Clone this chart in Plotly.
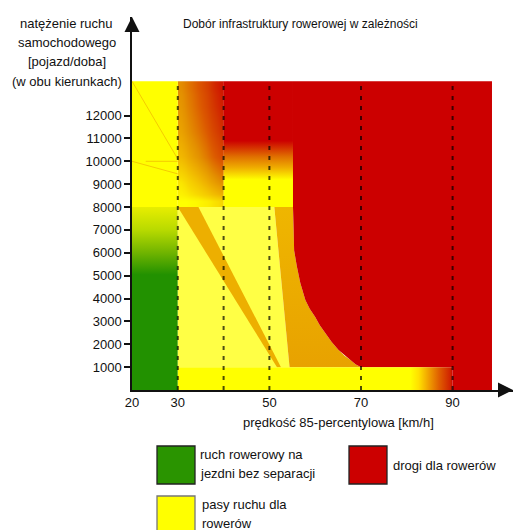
import plotly.graph_objects as go

# ---------------- data (speed km/h, traffic volume veh/day) ----------------
X_TICKS = [20, 30, 50, 70, 90]
Y_TICKS = [1000, 2000, 3000, 4000, 5000, 6000, 7000, 8000, 9000, 10000, 11000, 12000]
CLASS_LINES = [30, 40, 50, 70, 90]
VOL_TOP = 13500

uyel_x = [20, 30, 30, 20]
uyel_y = [8000, 8000, VOL_TOP, VOL_TOP]

green_x = [20, 30, 30, 20]
green_y = [0, 0, 8000, 8000]

mid_x = [30, 51.07, 54.4, 30]
mid_y = [8000, 8000, 1000, 1000]

diag_x = [30, 34.5, 52.53, 51.66]
diag_y = [8000, 8000, 1000, 1000]

curve_x = [55.15, 55.3, 55.4, 56.0, 56.75, 57.85, 58.8, 60.0, 61.0, 62.2, 63.6, 65.1, 66.4, 67.7, 68.8, 70.0]
curve_y = [8000, 7000, 6100, 5400, 4680, 3930, 3550, 3190, 2830, 2490, 2100, 1750, 1500, 1310, 1130, 1000]

band_x = [51.07] + curve_x + [54.4]
band_y = [8000] + curve_y + [1000]

red_x = [55.15, 98.6, 98.6, 90, 90] + curve_x[::-1]
red_y = [VOL_TOP, VOL_TOP, 0, 0, 1000] + curve_y[::-1]

strip_x = [30, 90, 90, 30]
strip_y = [0, 0, 1000, 1000]

umid_x = [40, 55.15, 55.15, 40]
umid_y = [8000, 8000, VOL_TOP, VOL_TOP]

# transition block 30-40 km/h above 8000 veh/day: share of "paths" colour (0 = lanes, 1 = paths)
trans_x_edges = [30, 31.25, 32.5, 33.75, 35, 36.25, 37.5, 38.75, 40]
trans_y_nodes = [8000, 9100, 10200, 11300, 12400, VOL_TOP]
trans_z = [
    [0.00, 0.00, 0.01, 0.02, 0.04, 0.06, 0.09, 0.12],
    [0.08, 0.12, 0.17, 0.22, 0.28, 0.34, 0.40, 0.46],
    [0.26, 0.31, 0.37, 0.43, 0.50, 0.57, 0.64, 0.70],
    [0.36, 0.42, 0.48, 0.54, 0.61, 0.68, 0.75, 0.82],
    [0.42, 0.48, 0.54, 0.61, 0.68, 0.75, 0.82, 0.88],
    [0.46, 0.52, 0.58, 0.65, 0.72, 0.79, 0.86, 0.92],
]

# faint seam lines visible in the upper-left block
seam_x = [20, 30, None, 20, 30, None, 23, 30]
seam_y = [VOL_TOP, 10100, None, 10000, 9450, None, 10000, 10000]

# ---------------- geometry of the page ----------------
L, T, W, H = 132, 17, 381, 373
X_MAX = 20 + W / 4.58
Y_MAX = H / 22.87 * 1000

def pxx(p):
    return (p - L) / W

def pxy(p):
    return (T + H - p) / H

RED = '#CC0000'
YEL = '#FFFF00'
FONT = dict(family='Liberation Sans, Arial, sans-serif', size=13, color='#111111')
TRANS_SCALE = [[0, YEL], [0.12, '#F8D800'], [0.28, '#F0B400'], [0.45, '#E49000'],
               [0.65, '#DC5800'], [0.8, '#D43800'], [1, RED]]

fig = go.Figure()

# smooth transition block (heatmap sits beneath all filled areas)
n = trans_y_nodes
hm_y_edges = [n[0]] + [(a + b) / 2 for a, b in zip(n[:-1], n[1:])] + [n[-1]]
fig.add_trace(go.Heatmap(x=trans_x_edges, y=hm_y_edges, z=trans_z, zsmooth='best',
                         zmin=0, zmax=1, showscale=False, hoverinfo='skip',
                         colorscale=TRANS_SCALE))

def poly(xs, ys, color=None, grad=None):
    kw = dict(x=xs + [xs[0]], y=ys + [ys[0]], mode='lines', fill='toself',
              line=dict(width=0), hoverinfo='skip', showlegend=False)
    if grad is not None:
        kw['fillgradient'] = grad
        kw['fillcolor'] = 'rgba(0,0,0,0)'
    else:
        kw['fillcolor'] = color
    fig.add_trace(go.Scatter(**kw))

poly(uyel_x, uyel_y, YEL)
poly(green_x, green_y, grad=dict(type='vertical', start=0, stop=8000, colorscale=[
    [0, '#229100'], [0.63, '#229100'], [0.75, '#70B400'], [0.875, '#B8DA00'], [1, '#E8EE00']]))
poly(mid_x, mid_y, '#FFFF45')
poly(diag_x, diag_y, '#EDAF00')
poly(band_x, band_y, grad=dict(type='vertical', start=1000, stop=8000, colorscale=[
    [0, '#E8A200'], [1, '#EFB600']]))
poly(umid_x, umid_y, grad=dict(type='vertical', start=8000, stop=VOL_TOP, colorscale=[
    [0, YEL], [0.218, YEL], [0.309, '#F0B000'], [0.4, '#E07000'], [0.527, RED], [1, RED]]))
poly(red_x, red_y, RED)
poly(strip_x, strip_y, grad=dict(type='horizontal', start=30, stop=90, colorscale=[
    [0, YEL], [0.847, YEL], [0.877, '#FFE000'], [0.913, '#F0A000'], [0.95, '#E06000'],
    [0.993, '#D02000'], [1, RED]]))

fig.add_trace(go.Scatter(x=seam_x, y=seam_y, mode='lines', hoverinfo='skip', showlegend=False,
                         line=dict(color='rgba(235,160,0,0.55)', width=1)))

# dashed class boundaries
lx, ly = [], []
for v in CLASS_LINES:
    lx += [v, v, None]
    ly += [0, VOL_TOP, None]
fig.add_trace(go.Scatter(x=lx, y=ly, mode='lines', hoverinfo='skip', showlegend=False,
                         line=dict(color='rgba(0,0,0,0.7)', width=2, dash='4px,6px')))

ann = []
def text(x, y, s, xanchor='center', size=13):
    ann.append(dict(xref='paper', yref='paper', x=pxx(x), y=pxy(y), text=s, showarrow=False,
                    xanchor=xanchor, yanchor='middle', font=dict(FONT, size=size)))

text(300.5, 24, 'Dobór infrastruktury rowerowej w zależności', size=12)
for s, yy in zip(['natężenie ruchu', 'samochodowego', '[pojazd/doba]', '(w obu kierunkach)'],
                 [23.3, 42.7, 61.7, 81]):
    text(66.7, yy, s)
text(338.5, 422.7, 'prędkość 85-percentylowa [km/h]')
text(198, 454, 'ruch rowerowy na', 'left')
text(198, 473, 'jezdni bez separacji', 'left')
text(391, 466, 'drogi dla rowerów', 'left')
text(200, 504, 'pasy ruchu dla', 'left')
text(200, 523, 'rowerów', 'left')

# axis arrows
ann.append(dict(xref='x', yref='y', x=20, y=Y_MAX, ax=0, ay=12, text='', showarrow=True,
                arrowhead=2, arrowsize=2, arrowwidth=1.5, arrowcolor='#111111', standoff=0))
ann.append(dict(xref='x', yref='y', x=X_MAX, y=0, ax=-12, ay=0, text='', showarrow=True,
                arrowhead=2, arrowsize=2, arrowwidth=1.5, arrowcolor='#111111', standoff=0))

shapes = []
def box(x0, y0, x1, y1, fill, line):
    shapes.append(dict(type='rect', xref='paper', yref='paper', x0=pxx(x0), x1=pxx(x1),
                       y0=pxy(y1), y1=pxy(y0), fillcolor=fill, line=dict(color=line, width=1.3)))
box(157, 446, 195, 484, '#2A9400', '#222222')
box(349, 446, 387, 484, RED, '#222222')
box(157, 496, 195, 534, YEL, '#777777')

fig.update_layout(
    width=514, height=530, margin=dict(l=L, r=514 - L - W, t=T, b=530 - T - H),
    paper_bgcolor='white', plot_bgcolor='white', showlegend=False,
    annotations=ann, shapes=shapes, font=FONT,
    xaxis=dict(range=[20, X_MAX], tickvals=X_TICKS, ticks='', showgrid=False, zeroline=False,
               showline=True, linecolor='#111111', linewidth=1.5, tickfont=FONT, fixedrange=True),
    yaxis=dict(range=[0, Y_MAX], tickvals=Y_TICKS, tickformat='d', ticks='outside', ticklen=6,
               tickwidth=1.5, tickcolor='#111111', showgrid=False, zeroline=False, showline=True,
               linecolor='#111111', linewidth=1.5, tickfont=FONT, fixedrange=True),
)

fig.write_html('out.html', include_plotlyjs=True, config={'displayModeBar': False},
               post_script="document.body.style.margin='0';document.body.style.overflow='hidden';")
